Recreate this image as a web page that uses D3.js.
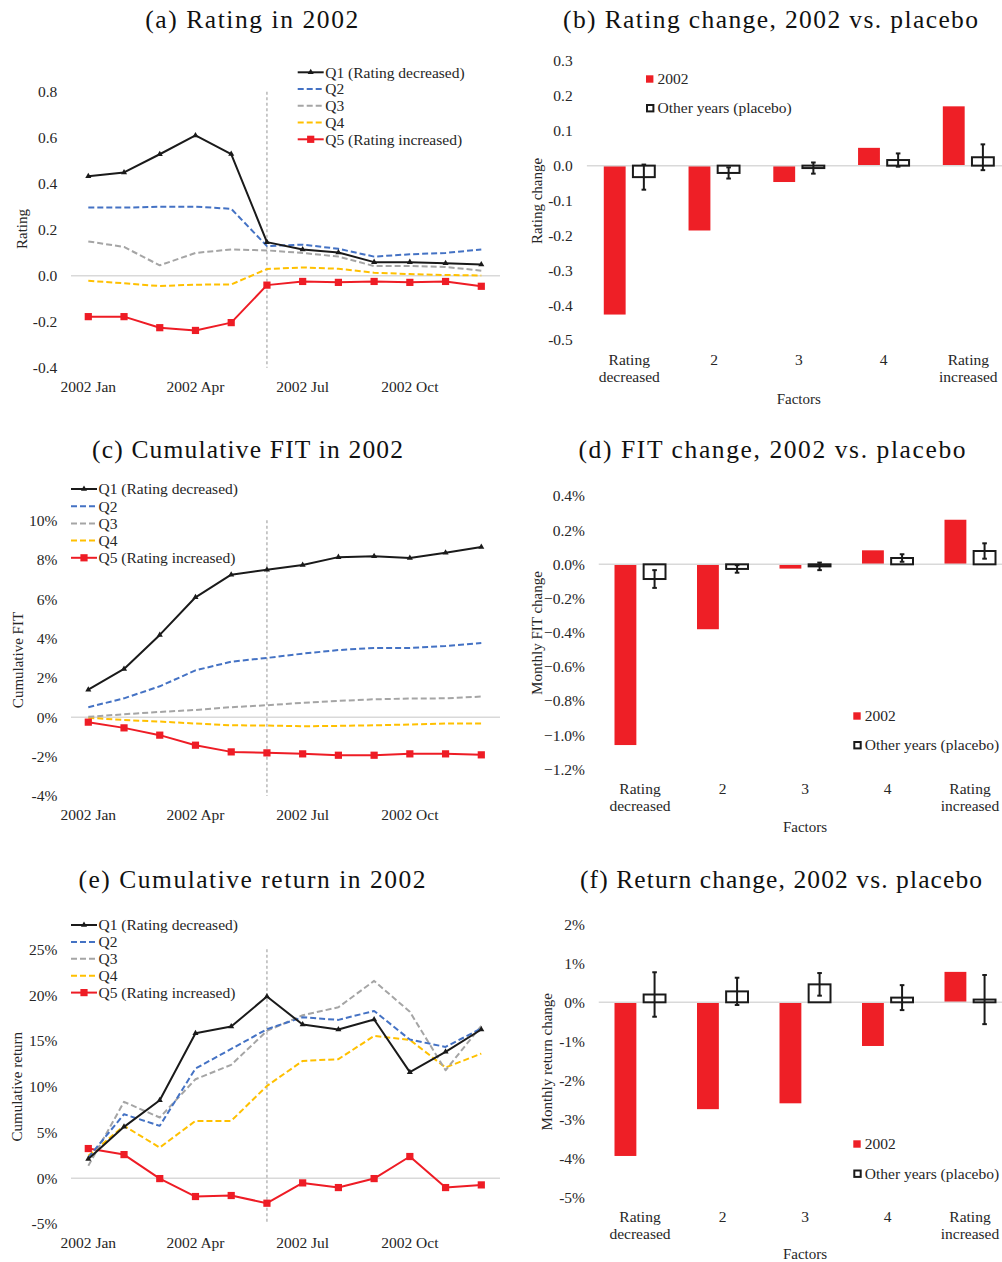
<!DOCTYPE html>
<html>
<head>
<meta charset="utf-8">
<script src="https://cdn.jsdelivr.net/npm/d3@7"></script>
<style>
  html, body { margin: 0; padding: 0; background: #fff; }
  svg text { font-family: "Liberation Serif", "Times New Roman", serif; fill: #262626; }
</style>
</head>
<body>
<svg id="chart" width="1002" height="1262"></svg>
<script>
// ---- data ----
var months = ["Jan","Feb","Mar","Apr","May","Jun","Jul","Aug","Sep","Oct","Nov","Dec"]
var dateTickIdx = [0, 3, 6, 9]
var dateTickLabels = ["2002 Jan", "2002 Apr", "2002 Jul", "2002 Oct"]
var eventMonth = "Jun"

var quintiles = ["Q1 (Rating decreased)", "Q2", "Q3", "Q4", "Q5 (Rating increased)"]

// (a) rating
var ratingQ1 = [0.432, 0.449, 0.528, 0.610, 0.529, 0.146, 0.114, 0.101, 0.059, 0.059, 0.054, 0.049]
var ratingQ2 = [0.296, 0.296, 0.300, 0.300, 0.291, 0.129, 0.135, 0.117, 0.083, 0.093, 0.099, 0.114]
var ratingQ3 = [0.149, 0.125, 0.045, 0.099, 0.114, 0.110, 0.099, 0.083, 0.042, 0.042, 0.038, 0.022]
var ratingQ4 = [-0.022, -0.033, -0.045, -0.039, -0.038, 0.029, 0.036, 0.030, 0.013, 0.007, 0.003, 0.001]
var ratingQ5 = [-0.178, -0.178, -0.226, -0.238, -0.204, -0.041, -0.025, -0.029, -0.025, -0.029, -0.025, -0.046]
var ratingTicks = [-0.4, -0.2, 0.0, 0.2, 0.4, 0.6, 0.8]

// (c) cumulative FIT, %
var fitQ1 = [1.40, 2.45, 4.18, 6.09, 7.24, 7.49, 7.73, 8.13, 8.18, 8.08, 8.35, 8.64]
var fitQ2 = [0.51, 0.96, 1.57, 2.38, 2.82, 3.01, 3.23, 3.41, 3.52, 3.52, 3.62, 3.77]
var fitQ3 = [0.02, 0.15, 0.27, 0.37, 0.51, 0.61, 0.73, 0.83, 0.91, 0.95, 0.96, 1.05]
var fitQ4 = [-0.03, -0.14, -0.22, -0.32, -0.41, -0.42, -0.46, -0.44, -0.41, -0.37, -0.32, -0.32]
var fitQ5 = [-0.25, -0.54, -0.91, -1.42, -1.76, -1.81, -1.86, -1.93, -1.93, -1.86, -1.86, -1.91]
var fitTicks = [-4, -2, 0, 2, 4, 6, 8, 10]

// (e) cumulative return, %
var retQ1 = [2.11, 5.61, 8.52, 15.84, 16.56, 19.84, 16.78, 16.24, 17.33, 11.58, 13.80, 16.24]
var retQ2 = [2.26, 6.99, 5.72, 11.98, 14.12, 16.27, 17.58, 17.29, 18.27, 15.14, 14.34, 16.35]
var retQ3 = [1.35, 8.34, 6.63, 10.81, 12.38, 16.09, 17.80, 18.67, 21.55, 18.17, 11.79, 16.64]
var retQ4 = [2.44, 5.72, 3.35, 6.26, 6.26, 10.08, 12.81, 13.00, 15.54, 15.11, 12.09, 13.61]
var retQ5 = [3.24, 2.58, -0.04, -2.00, -1.89, -2.73, -0.51, -1.02, -0.04, 2.37, -1.02, -0.73]
var retTicks = [-5, 0, 5, 10, 15, 20, 25]

var factors = ["Rating decreased", "2", "3", "4", "Rating increased"]
var barKeys = ["2002", "Other years (placebo)"]

// (b) rating change
var ratingChg2002 = [-0.427, -0.186, -0.047, 0.051, 0.170]
var ratingChgPlacebo = [-0.033, -0.021, -0.007, 0.016, 0.024]
var ratingChgErr = [0.036, 0.016, 0.016, 0.019, 0.037]
var ratingChgTicks = [-0.5, -0.4, -0.3, -0.2, -0.1, 0.0, 0.1, 0.2, 0.3]

// (d) monthly FIT change, %
var fitChg2002 = [-1.058, -0.380, -0.025, 0.082, 0.261]
var fitChgPlacebo = [-0.086, -0.027, -0.012, 0.037, 0.078]
var fitChgErr = [0.052, 0.022, 0.022, 0.022, 0.045]
var fitChgTicks = [-1.2, -1.0, -0.8, -0.6, -0.4, -0.2, 0.0, 0.2, 0.4]

// (f) monthly return change, %
var retChg2002 = [-3.94, -2.74, -2.59, -1.12, 0.78]
var retChgPlacebo = [0.20, 0.28, 0.46, 0.12, 0.07]
var retChgErr = [0.57, 0.35, 0.29, 0.32, 0.63]
var retChgTicks = [-5, -4, -3, -2, -1, 0, 1, 2]

// ---- styles ----
var qColors = ["#1a1a1a", "#4472c4", "#a5a5a5", "#ffc000", "#ee1c25"]
var qDash = [null, "6,3", "6,3", "6,3", null]
var barRed = "#ee1f26"
var zeroCol = "#d9d9d9"
var fs = 15.5

var svg = d3.select("#chart")

function title(txt, cx, y, len){
	svg.append("text")
		.attr("x", cx).attr("y", y)
		.attr("text-anchor", "middle")
		.attr("textLength", len).attr("lengthAdjust", "spacing")
		.style("font-size", "25.5px")
		.style("fill", "#111")
		.text(txt)
}

function yTitle(txt, x, cy){
	svg.append("text")
		.attr("transform", "translate(" + x + "," + cy + ") rotate(-90)")
		.attr("text-anchor", "middle")
		.attr("dy", "0.35em")
		.style("font-size", "15px")
		.text(txt)
}

function drawLinePanel(cfg){
	var g = svg.append("g")
	var x = d3.scalePoint().domain(months).range([88.3, 481.3])
	var y = d3.scaleLinear().domain(cfg.domain).range(cfg.range)

	// zero line
	g.append("line")
		.attr("x1", 71).attr("x2", 500)
		.attr("y1", y(0)).attr("y2", y(0))
		.attr("stroke", zeroCol).attr("stroke-width", 1.5)

	// event line
	g.append("line")
		.attr("x1", x(eventMonth)).attr("x2", x(eventMonth))
		.attr("y1", cfg.range[1]).attr("y2", cfg.range[0])
		.attr("stroke", "#a6a6a6").attr("stroke-width", 1.2)
		.attr("stroke-dasharray", "3,2.5")

	// y axis labels
	var yAxis = d3.axisLeft(y).tickValues(cfg.ticks).tickSize(0).tickFormat(cfg.fmt)
	var ya = g.append("g").attr("transform", "translate(" + (cfg.tickRight + 0) + ",0)").call(yAxis)
	ya.select(".domain").remove()
	ya.selectAll("text").attr("x", 0).style("font-size", fs + "px").style("font-family", "Liberation Serif").attr("fill", "#262626")

	// x labels
	g.selectAll("text.dt")
		.data(dateTickIdx)
		.enter().append("text")
		.attr("class", "dt")
		.attr("x", function(d){ return x(months[d]) })
		.attr("y", cfg.dateY)
		.attr("dy", "0.35em")
		.attr("text-anchor", "middle")
		.style("font-size", fs + "px")
		.text(function(d, i){ return dateTickLabels[i] })

	yTitle(cfg.yLabel, cfg.yLabelX, cfg.yLabelY)

	// series, drawn Q5 first up to Q1 on top
	var line = d3.line().x(function(d, i){ return x(months[i]) }).y(function(d){ return y(d) })
	var order = [4, 3, 2, 1, 0]
	order.forEach(function(k){
		g.append("path")
			.attr("d", line(cfg.series[k]))
			.attr("fill", "none")
			.attr("stroke", qColors[k])
			.attr("stroke-width", 2)
			.attr("stroke-dasharray", qDash[k])
			.attr("stroke-linejoin", "round")
	})
	// markers
	g.selectAll("rect.q5")
		.data(cfg.series[4])
		.enter().append("rect")
		.attr("class", "q5")
		.attr("x", function(d, i){ return x(months[i]) - 3.6 })
		.attr("y", function(d){ return y(d) - 3.6 })
		.attr("width", 7.2).attr("height", 7.2)
		.attr("fill", qColors[4])
	var tri = d3.symbol().type(d3.symbolTriangle).size(16)
	g.selectAll("path.q1")
		.data(cfg.series[0])
		.enter().append("path")
		.attr("class", "q1")
		.attr("d", tri)
		.attr("transform", function(d, i){ return "translate(" + x(months[i]) + "," + y(d) + ")" })
		.attr("fill", qColors[0])

	// legend
	var lg = g.append("g")
	quintiles.forEach(function(q, k){
		var ly = cfg.legY + k * cfg.legStep
		lg.append("line")
			.attr("x1", cfg.legX).attr("x2", cfg.legX + 26)
			.attr("y1", ly).attr("y2", ly)
			.attr("stroke", qColors[k]).attr("stroke-width", 2)
			.attr("stroke-dasharray", qDash[k])
		if(k === 0){
			lg.append("path").attr("d", tri).attr("transform", "translate(" + (cfg.legX + 13) + "," + ly + ")").attr("fill", qColors[0])
		}
		if(k === 4){
			lg.append("rect").attr("x", cfg.legX + 9.4).attr("y", ly - 3.6).attr("width", 7.2).attr("height", 7.2).attr("fill", qColors[4])
		}
		lg.append("text")
			.attr("x", cfg.legX + 27.5).attr("y", ly)
			.attr("dy", "0.35em")
			.style("font-size", fs + "px")
			.text(q)
	})
}

function drawBarPanel(cfg){
	var g = svg.append("g")
	var x0 = d3.scaleBand().domain(factors).range(cfg.xRange)
	var x1 = d3.scaleBand().domain(barKeys).range([-25.5, 25.5]).paddingInner(0.25)
	var y = d3.scaleLinear().domain(cfg.domain).range(cfg.range)
	var cx = function(f){ return x0(f) + x0.bandwidth() / 2 }

	var yAxis = d3.axisLeft(y).tickValues(cfg.ticks).tickSize(0).tickFormat(cfg.fmt)
	var ya = g.append("g").attr("transform", "translate(" + cfg.tickRight + ",0)").call(yAxis)
	ya.select(".domain").remove()
	ya.selectAll("text").attr("x", 0).style("font-size", fs + "px").style("font-family", "Liberation Serif").attr("fill", "#262626")

	// red bars
	g.selectAll("rect.b2002")
		.data(cfg.v2002)
		.enter().append("rect")
		.attr("class", "b2002")
		.attr("x", function(d, i){ return cx(factors[i]) + x1(barKeys[0]) })
		.attr("width", x1.bandwidth())
		.attr("y", function(d){ return Math.min(y(d), y(0)) })
		.attr("height", function(d){ return Math.abs(y(d) - y(0)) })
		.attr("fill", barRed)

	// zero line
	g.append("line")
		.attr("x1", cfg.xRange[0]).attr("x2", 1002)
		.attr("y1", y(0)).attr("y2", y(0))
		.attr("stroke", zeroCol).attr("stroke-width", 1.5)

	// placebo boxes
	g.selectAll("rect.bplac")
		.data(cfg.vPlacebo)
		.enter().append("rect")
		.attr("class", "bplac")
		.attr("x", function(d, i){ return cx(factors[i]) + x1(barKeys[1]) })
		.attr("width", x1.bandwidth())
		.attr("y", function(d){ return Math.min(y(d), y(0)) })
		.attr("height", function(d){ return Math.max(Math.abs(y(d) - y(0)), 0.5) })
		.attr("fill", "#fff")
		.attr("stroke", "#1a1a1a").attr("stroke-width", 2)

	// error bars
	cfg.vPlacebo.forEach(function(v, i){
		var ex = cx(factors[i]) + x1(barKeys[1]) + x1.bandwidth() / 2
		var lo = y(v - cfg.err[i]), hi = y(v + cfg.err[i])
		g.append("line").attr("x1", ex).attr("x2", ex).attr("y1", lo).attr("y2", hi)
			.attr("stroke", "#1a1a1a").attr("stroke-width", 2)
		;[lo, hi].forEach(function(yy){
			g.append("line").attr("x1", ex - 2.3).attr("x2", ex + 2.3).attr("y1", yy).attr("y2", yy)
				.attr("stroke", "#1a1a1a").attr("stroke-width", 2)
		})
	})

	// category labels
	factors.forEach(function(f){
		var parts = f.split(" ")
		parts.forEach(function(p, j){
			g.append("text")
				.attr("x", cx(f))
				.attr("y", cfg.catY + j * 16.7)
				.attr("dy", "0.35em")
				.attr("text-anchor", "middle")
				.style("font-size", fs + "px")
				.text(p)
		})
	})
	g.append("text")
		.attr("x", (cfg.xRange[0] + cfg.xRange[1]) / 2)
		.attr("y", cfg.factorsY)
		.attr("dy", "0.35em")
		.attr("text-anchor", "middle")
		.style("font-size", "15px")
		.text("Factors")

	yTitle(cfg.yLabel, cfg.yLabelX, cfg.yLabelY)

	// legend
	g.append("rect").attr("x", cfg.legX).attr("y", cfg.legY - 3.7).attr("width", 7.4).attr("height", 7.4).attr("fill", barRed)
	g.append("text").attr("x", cfg.legX + 11.5).attr("y", cfg.legY).attr("dy", "0.35em").style("font-size", fs + "px").text(barKeys[0])
	var ly2 = cfg.legY + cfg.legStep
	g.append("rect").attr("x", cfg.legX + 1).attr("y", ly2 - 3).attr("width", 6.4).attr("height", 6.4)
		.attr("fill", "#fff").attr("stroke", "#1a1a1a").attr("stroke-width", 2)
	g.append("text").attr("x", cfg.legX + 11.5).attr("y", ly2).attr("dy", "0.35em").style("font-size", fs + "px").text(barKeys[1])
}

var fmt1 = d3.format(".1f")
var pct0 = function(d){ return d + "%" }
var pct1 = function(d){ return d3.format(".1f")(d) + "%" }
var minusFmt = function(f){ return function(d){ return f(d).replace("\u2212", "-") } }

// titles
title("(a) Rating in 2002", 251.7, 28.3, 213)
title("(b) Rating change, 2002 vs. placebo", 770.5, 28.3, 415)
title("(c) Cumulative FIT in 2002", 247.5, 458.3, 311)
title("(d) FIT change, 2002 vs. placebo", 772, 458.3, 387)
title("(e) Cumulative return in 2002", 252, 888.3, 347)
title("(f) Return change, 2002 vs. placebo", 781, 888.3, 402)

drawLinePanel({
	series: [ratingQ1, ratingQ2, ratingQ3, ratingQ4, ratingQ5],
	domain: [-0.4, 0.8], range: [367.7, 91.7], ticks: ratingTicks, fmt: minusFmt(fmt1),
	tickRight: 57.3, dateY: 387, yLabel: "Rating", yLabelX: 21.7, yLabelY: 229,
	legX: 297.7, legY: 72.3, legStep: 16.75
})
drawLinePanel({
	series: [fitQ1, fitQ2, fitQ3, fitQ4, fitQ5],
	domain: [-4, 10], range: [796, 520.3], ticks: fitTicks, fmt: pct0,
	tickRight: 57.3, dateY: 814.3, yLabel: "Cumulative FIT", yLabelX: 17.3, yLabelY: 660,
	legX: 71, legY: 489, legStep: 17.2
})
drawLinePanel({
	series: [retQ1, retQ2, retQ3, retQ4, retQ5],
	domain: [-5, 25], range: [1224, 949.3], ticks: retTicks, fmt: pct0,
	tickRight: 57.3, dateY: 1242.7, yLabel: "Cumulative return", yLabelX: 16.7, yLabelY: 1086.7,
	legX: 71, legY: 925, legStep: 16.9
})

drawBarPanel({
	v2002: ratingChg2002, vPlacebo: ratingChgPlacebo, err: ratingChgErr,
	domain: [-0.5, 0.3], range: [340, 61], ticks: ratingChgTicks, fmt: minusFmt(fmt1),
	xRange: [586.9, 1010.7], tickRight: 572.7,
	catY: 360, factorsY: 398.3, yLabel: "Rating change", yLabelX: 536.7, yLabelY: 201,
	legX: 646, legY: 79, legStep: 29
})
drawBarPanel({
	v2002: fitChg2002, vPlacebo: fitChgPlacebo, err: fitChgErr,
	domain: [-1.2, 0.4], range: [769.3, 496], ticks: fitChgTicks, fmt: pct1,
	xRange: [598.75, 1011.25], tickRight: 585,
	catY: 789, factorsY: 826.5, yLabel: "Monthly FIT change", yLabelX: 536.7, yLabelY: 633,
	legX: 853.3, legY: 716, legStep: 29
})
drawBarPanel({
	v2002: retChg2002, vPlacebo: retChgPlacebo, err: retChgErr,
	domain: [-5, 2], range: [1197.3, 924.3], ticks: retChgTicks, fmt: pct0,
	xRange: [598.75, 1011.25], tickRight: 585,
	catY: 1216.7, factorsY: 1254, yLabel: "Monthly return change", yLabelX: 546.7, yLabelY: 1061.7,
	legX: 853.3, legY: 1144, legStep: 29.5
})
</script>
</body>
</html>
